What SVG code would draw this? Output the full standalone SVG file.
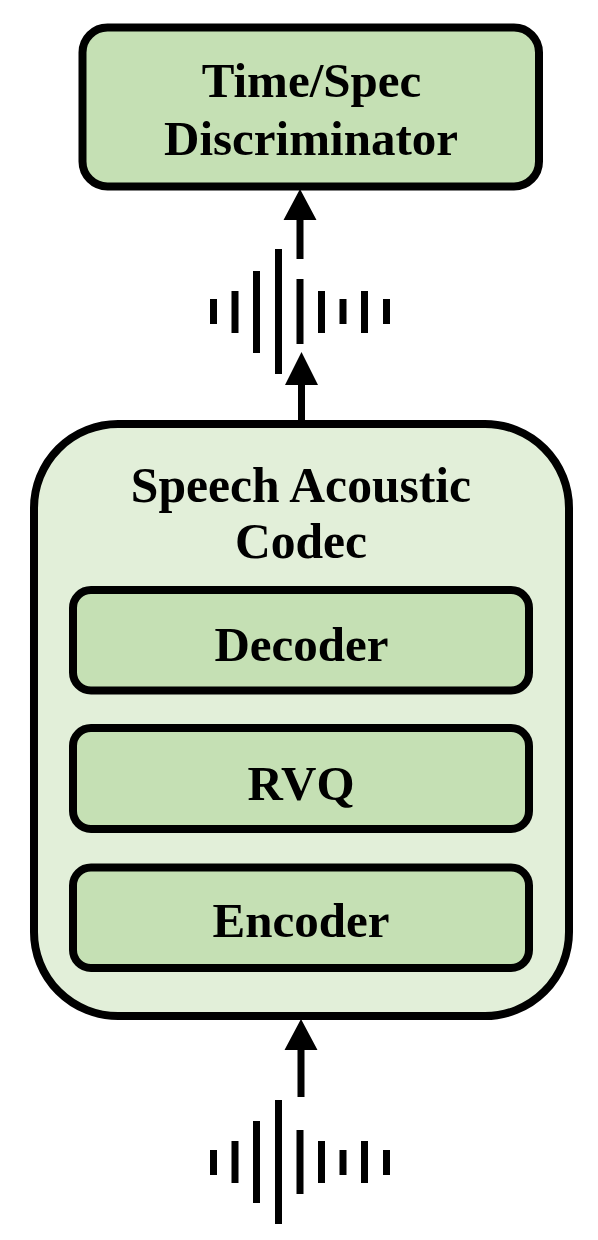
<svg xmlns="http://www.w3.org/2000/svg" width="598" height="1240" viewBox="0 0 598 1240">
<defs><style>
.d{fill:#c5e0b4;stroke:#000;stroke-width:8}
.o{fill:#e2efd9;stroke:#000;stroke-width:8}
text{font-family:"Liberation Serif","Times New Roman",serif;font-weight:bold;fill:#000;text-anchor:middle;font-size:49px}
.c{stroke:#000;stroke-width:7;fill:none}
.h{fill:#000}
</style></defs>
<rect width="598" height="1240" fill="#fff"/>
<g id="discriminator"><rect class="d" x="82.500" y="27.500" width="456.500" height="159" rx="25"/><text x="311.500" y="97">Time/Spec</text><text x="311" y="154.500">Discriminator</text></g>
<g id="codec"><rect class="o" x="34" y="424" width="535" height="592" rx="84"/><text x="301" y="502" style="font-size:49.600px">Speech Acoustic</text><text x="301" y="558" style="font-size:49.600px">Codec</text></g>
<g id="decoder"><rect class="d" x="73" y="590" width="456" height="100.500" rx="18"/><text x="301.500" y="661">Decoder</text></g>
<g id="rvq"><rect class="d" x="73" y="728" width="456" height="101" rx="18"/><text x="301" y="799.500">RVQ</text></g>
<g id="encoder"><rect class="d" x="73" y="867.500" width="456" height="100.500" rx="18"/><text x="301" y="937">Encoder</text></g>
<g id="connectors">
<path class="c" d="M300 259V218M301.500 420V384M301 1097V1048"/>
<path class="h" d="M300 189L316.500 220H283.500ZM301.500 352L318 385H285ZM301 1019L317.500 1050H284.500Z"/>
</g>
<g id="wave-top" class="c"><path d="M213.500 299V324M235 291V333M256.500 271V353M278.500 249V374M300 279V344M321.500 291V333M343 299V324M364.500 291V333M386.500 299V324"/></g>
<g id="wave-bottom" class="c"><path d="M213.500 1150V1175M235 1141V1183M256.500 1121V1203M278.500 1100V1224M300 1130V1194M321.500 1141V1183M343 1150V1175M364.500 1141V1183M386.500 1150V1175"/></g>
</svg>
